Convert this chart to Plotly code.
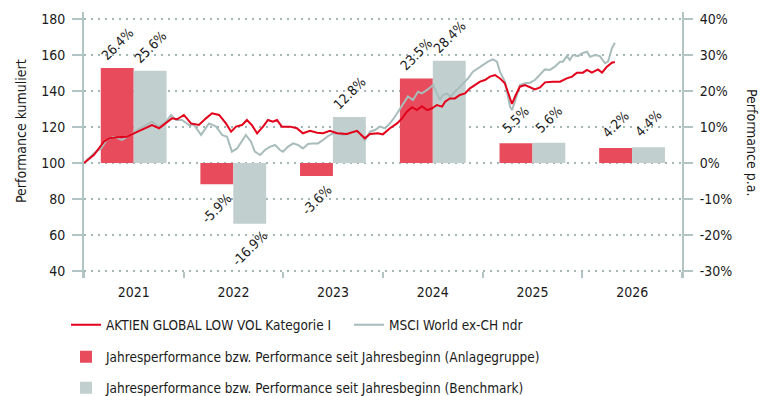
import pandas as pd
import plotly.graph_objects as go

# ---- data -------------------------------------------------------------
years = [2021, 2022, 2023, 2024, 2025, 2026]
fund_perf = [26.4, -5.9, -3.6, 23.5, 5.5, 4.2]        # Anlagegruppe, % p.a.
bench_perf = [25.6, -16.9, 12.8, 28.4, 5.6, 4.4]      # Benchmark, % p.a.

fund_name = "AKTIEN GLOBAL LOW VOL Kategorie I"
bench_name = "MSCI World ex-CH ndr"
fund_bar_name = "Jahresperformance bzw. Performance seit Jahresbeginn (Anlagegruppe)"
bench_bar_name = "Jahresperformance bzw. Performance seit Jahresbeginn (Benchmark)"

fund_dates = [
    "2021-01-01", "2021-02-06", "2021-03-15", "2021-04-03", "2021-05-02", "2021-06-08",
    "2021-07-03", "2021-07-29", "2021-08-20", "2021-09-07", "2021-10-03", "2021-10-28",
    "2021-11-19", "2021-12-08",
    "2022-01-02", "2022-01-28", "2022-02-26", "2022-03-24", "2022-04-15", "2022-05-11",
    "2022-06-05", "2022-06-24", "2022-07-12", "2022-08-03", "2022-08-21", "2022-09-08",
    "2022-09-27", "2022-10-19", "2022-11-06", "2022-11-24", "2022-12-09", "2022-12-27",
    "2023-01-26", "2023-02-20", "2023-03-14", "2023-04-09", "2023-05-05", "2023-05-27",
    "2023-06-21", "2023-07-17", "2023-08-22", "2023-09-28", "2023-10-27", "2023-11-15",
    "2023-12-14",
    "2024-01-01", "2024-01-27", "2024-02-22", "2024-03-11", "2024-03-29", "2024-04-17",
    "2024-05-05", "2024-05-23", "2024-06-11", "2024-06-29", "2024-07-17", "2024-08-05",
    "2024-08-16", "2024-09-03", "2024-09-21", "2024-10-09", "2024-10-28", "2024-11-15",
    "2024-12-03", "2024-12-22",
    "2025-01-09", "2025-01-27", "2025-02-15", "2025-03-05", "2025-03-23", "2025-04-03",
    "2025-04-18", "2025-04-29", "2025-05-17", "2025-06-05", "2025-06-23", "2025-07-11",
    "2025-07-30", "2025-08-17", "2025-09-15", "2025-10-11", "2025-11-05", "2025-11-24",
    "2025-12-12",
    "2026-01-03", "2026-01-18", "2026-02-05", "2026-02-27", "2026-03-14", "2026-04-01",
    "2026-04-19", "2026-04-30",
]
fund_values = [
    100.0, 104.4, 111.8, 113.7, 114.3, 114.6, 116.5, 118.3, 120.2, 121.1, 119.3, 122.0,
    124.8, 124.3,
    126.7, 122.0, 121.1, 124.8, 127.6, 126.7, 122.0, 117.4, 120.2, 121.1, 123.9, 121.1,
    116.5, 120.2, 123.9, 122.9, 123.9, 120.2,
    120.2, 119.3, 116.5, 117.9, 116.8, 116.5, 117.9, 116.5, 116.1, 117.9, 113.7, 116.1,
    116.5,
    115.9, 119.3, 122.0, 124.8, 128.5, 131.0, 129.4, 131.5, 129.4, 130.4, 132.2, 131.3,
    134.1, 135.9, 135.9, 137.8, 138.7, 141.5, 143.3, 145.2,
    146.1, 148.0, 148.9, 147.0, 144.3, 139.6, 132.8, 136.8, 142.4, 143.3, 142.0, 140.9,
    142.0, 144.8, 145.2, 145.2, 147.0, 148.0, 150.2,
    150.2, 151.7, 150.2, 152.0, 150.2, 153.5, 155.7, 156.1,
]

bench_dates = [
    "2021-01-01", "2021-02-06", "2021-03-04", "2021-03-26", "2021-04-21", "2021-05-20",
    "2021-06-22", "2021-07-14", "2021-08-16", "2021-09-07", "2021-10-03", "2021-10-28",
    "2021-11-16", "2021-12-04", "2021-12-26",
    "2022-01-21", "2022-02-08", "2022-03-06", "2022-04-04", "2022-04-30", "2022-05-22",
    "2022-06-09", "2022-06-27", "2022-07-16", "2022-08-17", "2022-09-05", "2022-09-19",
    "2022-10-08", "2022-10-26", "2022-11-13", "2022-12-02", "2022-12-20", "2022-12-31",
    "2023-01-18", "2023-02-06", "2023-02-24", "2023-03-14", "2023-04-02", "2023-04-20",
    "2023-05-08", "2023-05-27", "2023-06-14", "2023-07-02", "2023-07-21", "2023-08-08",
    "2023-08-26", "2023-09-13", "2023-10-02", "2023-10-27", "2023-11-15", "2023-12-03",
    "2023-12-21",
    "2024-01-09", "2024-01-27", "2024-02-14", "2024-03-04", "2024-03-22", "2024-04-02",
    "2024-04-20", "2024-05-09", "2024-05-23", "2024-06-11", "2024-07-03", "2024-07-17",
    "2024-07-28", "2024-08-08", "2024-08-23", "2024-09-03", "2024-09-21", "2024-10-02",
    "2024-10-20", "2024-11-08", "2024-11-26", "2024-12-14",
    "2025-01-02", "2025-01-20", "2025-02-07", "2025-02-22", "2025-03-05", "2025-03-23",
    "2025-04-11", "2025-04-18", "2025-04-29", "2025-05-17", "2025-06-05", "2025-06-23",
    "2025-07-11", "2025-07-30", "2025-08-17", "2025-09-04", "2025-09-22", "2025-10-11",
    "2025-10-22", "2025-11-05", "2025-11-16", "2025-11-27", "2025-12-16", "2025-12-30",
    "2026-01-18", "2026-01-29", "2026-02-16", "2026-03-06", "2026-03-25", "2026-04-05",
    "2026-04-19", "2026-04-30",
]
bench_values = [
    100.0, 105.4, 108.1, 112.8, 114.6, 112.8, 115.6, 118.3, 121.1, 122.9, 120.2, 122.9,
    126.7, 123.9, 123.9,
    121.1, 121.1, 115.6, 122.0, 120.2, 115.6, 114.6, 106.3, 108.1, 115.6, 111.8, 106.3,
    104.4, 107.2, 109.0, 110.0, 107.2, 106.3,
    109.0, 110.9, 110.0, 108.1, 110.6, 110.9, 110.9, 112.8, 115.0, 116.5, 116.5, 115.6,
    116.1, 117.4, 117.4, 112.8, 117.4, 118.3, 120.2,
    119.3, 122.0, 125.7, 130.4, 134.1, 137.0, 135.0, 139.6, 138.7, 140.6, 143.3, 138.7,
    135.0, 137.8, 138.7, 136.8, 139.6, 141.5, 144.3, 147.0, 150.7, 152.6,
    154.4, 156.3, 157.6, 156.3, 150.7, 145.2, 131.3, 129.4, 134.1, 143.3, 144.3, 144.6,
    146.1, 148.9, 152.0, 151.7, 153.5, 156.3, 156.3, 159.4, 157.2, 160.0, 159.4, 160.9,
    161.8, 159.0, 160.0, 159.4, 155.4, 156.3, 163.7, 166.8,
]

left_ticks = [40, 60, 80, 100, 120, 140, 160, 180]
right_ticks = [-30, -20, -10, 0, 10, 20, 30, 40]

# ---- styling ----------------------------------------------------------
FONT = "'DejaVu Sans Condensed', 'DejaVu Sans', sans-serif"
TEXT = "#1a1a1a"
RED_LINE = "#e2001a"
RED_BAR = "#e84c5c"
GREY_LINE = "#a9bcbc"
GREY_BAR = "#c2cfcf"
AXIS = "#b3c4c4"
GRID = "#a3b7b7"

YEAR_MS = 365.25 * 24 * 3600 * 1000
BAR_FRAC = 0.33
BAR_W = BAR_FRAC * YEAR_MS

W, H = 765, 396
L, R, T, B = 84, 83, 12, 118
pw, ph = W - L - R, H - T - B


def px_x(x):
    return (x - L) / pw


def px_y(y):
    return (H - B - y) / ph


mid_year = [pd.Timestamp(f"{y}-07-02") for y in years]
half_bar = pd.Timedelta(days=BAR_FRAC * 365.25 / 2)
bar_x = [d.strftime("%Y-%m-%d") for d in mid_year]

fig = go.Figure()

# yearly performance bars (primary y, percent, right side)
fig.add_trace(go.Bar(
    x=bar_x, y=fund_perf, name=fund_bar_name,
    marker=dict(color=RED_BAR, line=dict(width=0)),
    width=[BAR_W] * len(years), offset=[-BAR_W] * len(years),
    yaxis="y", legend="legend2",
))
fig.add_trace(go.Bar(
    x=bar_x, y=bench_perf, name=bench_bar_name,
    marker=dict(color=GREY_BAR, line=dict(width=0)),
    width=[BAR_W] * len(years), offset=[0] * len(years),
    yaxis="y", legend="legend3",
))

# cumulative performance lines (overlay axis, drawn above the bars);
# benchmark first so the fund line sits on top
fig.add_trace(go.Scatter(
    x=bench_dates, y=bench_values, name=bench_name, mode="lines",
    line=dict(color=GREY_LINE, width=2), yaxis="y2", legend="legend", legendrank=2,
))
fig.add_trace(go.Scatter(
    x=fund_dates, y=fund_values, name=fund_name, mode="lines",
    line=dict(color=RED_LINE, width=2), yaxis="y2", legend="legend", legendrank=1,
))

# rotated value labels for the bars
annotations = []
for i, y in enumerate(years):
    for val, centre in ((fund_perf[i], mid_year[i] - half_bar),
                        (bench_perf[i], mid_year[i] + half_bar)):
        annotations.append(dict(
            x=centre.strftime("%Y-%m-%d %H:%M"), y=val, xref="x", yref="y",
            text=f"{val:.1f}%", showarrow=False, textangle=-45,
            xanchor="center", yanchor="middle",
            yshift=24 if val >= 0 else -24,
            font=dict(family=FONT, size=13.5, color=TEXT),
        ))

# axis titles
annotations.append(dict(
    x=px_x(21), y=px_y(131), xref="paper", yref="paper", text="Performance kumuliert",
    xanchor="center", yanchor="middle",
    showarrow=False, textangle=-90, font=dict(family=FONT, size=14, color=TEXT),
))
annotations.append(dict(
    x=px_x(752), y=px_y(142), xref="paper", yref="paper", text="Performance p.a.",
    xanchor="center", yanchor="middle",
    showarrow=False, textangle=90, font=dict(family=FONT, size=14, color=TEXT),
))

# y ranges: 1.8 px per index point, 3.6 px per percent, 0% aligned with 100
y2_range = [40 - 7 / 1.8, 180 + 7 / 1.8]
y_range = [(v - 100) / 2 for v in y2_range]

legend_common = dict(
    orientation="h", xanchor="left", yanchor="middle",
    font=dict(size=13.5), bgcolor="rgba(0,0,0,0)", borderwidth=0,
)

fig.update_layout(
    width=W, height=H,
    margin=dict(l=L, r=R, t=T, b=B, pad=0, autoexpand=False),
    paper_bgcolor="white", plot_bgcolor="white",
    font=dict(family=FONT, size=14, color=TEXT),
    barmode="overlay",
    annotations=annotations,
    xaxis=dict(
        type="date", range=["2021-01-01", "2027-01-01"],
        dtick="M12", tick0="2021-01-01", ticklabelmode="period", tickformat="%Y",
        ticks="inside", ticklen=6, tickwidth=2, tickcolor=AXIS,
        showgrid=False, showline=False, zeroline=False,
        ticklabelstandoff=4, tickfont=dict(size=14),
    ),
    yaxis=dict(
        side="right", range=y_range, tickvals=right_ticks,
        ticktext=[f"{v}%" for v in right_ticks],
        showline=True, linecolor=AXIS, linewidth=2,
        ticks="outside", ticklen=9, tickwidth=2, tickcolor=AXIS,
        showgrid=True, gridcolor=GRID, gridwidth=2, griddash="2px,5px",
        zeroline=False, ticklabelstandoff=4, tickfont=dict(size=14),
    ),
    yaxis2=dict(
        overlaying="y", side="left", range=y2_range, tickvals=left_ticks,
        showline=True, linecolor=AXIS, linewidth=2,
        ticks="outside", ticklen=10, tickwidth=2, tickcolor=AXIS,
        showgrid=False, zeroline=False, ticklabelstandoff=4, tickfont=dict(size=14),
    ),
    legend=dict(legend_common, x=px_x(66), y=px_y(325),
                entrywidth=238, entrywidthmode="pixels"),
    legend2=dict(legend_common, x=px_x(66), y=px_y(357)),
    legend3=dict(legend_common, x=px_x(66), y=px_y(388)),
)

fig.write_html("out.html")
